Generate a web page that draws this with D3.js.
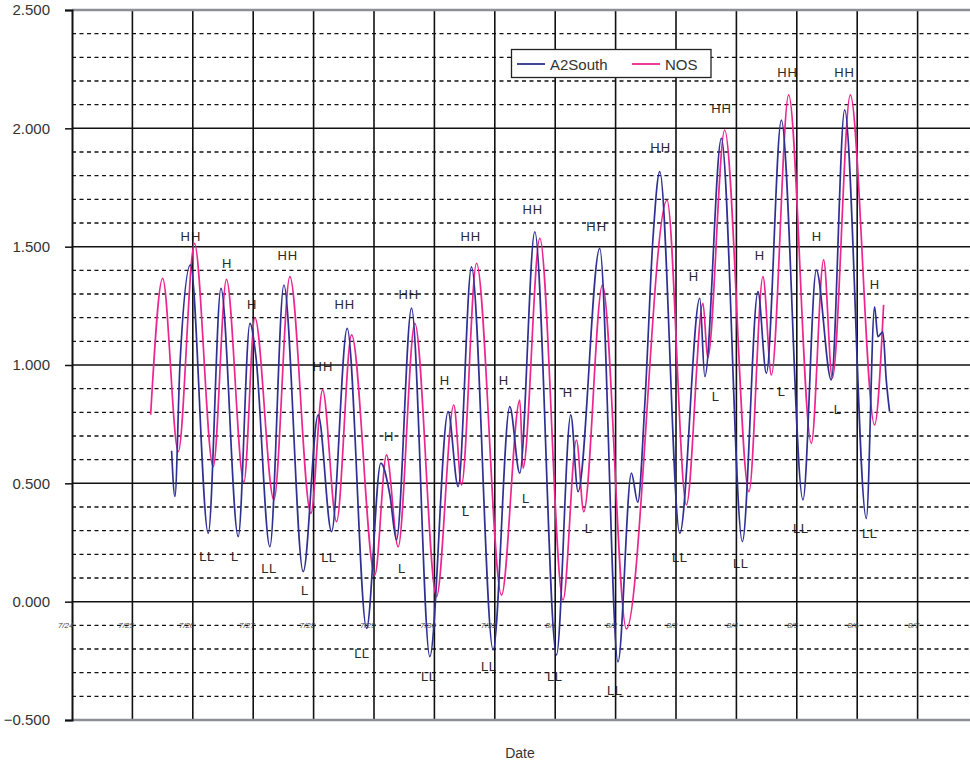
<!DOCTYPE html>
<html>
<head>
<meta charset="utf-8">
<script src="https://cdn.jsdelivr.net/npm/d3@7"></script>
<style>
  html, body { margin: 0; padding: 0; background: #fff; }
  svg { display: block; font-family: "Liberation Sans", Arial, Helvetica, sans-serif; }
</style>
</head>
<body>
<svg id="chart" width="970" height="762"></svg>
<script>
// ---------- data (day offset from 7/24 00:00, water level) ----------
const dayLabels = ["7/24","7/25","7/26","7/27","7/28","7/29","7/30","7/31","8/1","8/2","8/3","8/4","8/5","8/6","8/7"];
const yMajorTicks = [-0.5, 0, 0.5, 1, 1.5, 2, 2.5];
const yMinorTicks = [-0.4,-0.3,-0.2,-0.1,0.1,0.2,0.3,0.4,0.6,0.7,0.8,0.9,1.1,1.2,1.3,1.4,1.6,1.7,1.8,1.9,2.1,2.2,2.3,2.4];
const seriesNames = ["A2South", "NOS"];

const a2South = [
  [1.649,0.638],[1.704,0.444],[1.787,1.00],[1.961,1.423],[2.256,0.289],[2.466,1.324],
  [2.752,0.275],[2.946,1.176],[3.045,1.035],[3.276,0.232],[3.508,1.338],[3.828,0.127],
  [4.076,0.789],[4.297,0.296],[4.556,1.155],[4.877,-0.113],[5.113,0.585],[5.263,0.45],
  [5.372,0.261],[5.621,1.24],[5.924,-0.232],[6.227,0.803],[6.393,0.486],[6.614,1.415],
  [6.972,-0.204],[7.248,0.824],[7.413,0.543],[7.662,1.563],[8.021,-0.225],[8.258,0.789],
  [8.378,0.465],[8.737,1.493],[9.040,-0.254],[9.262,0.543],[9.367,0.42],[9.487,0.85],
  [9.620,1.54],[9.731,1.817],[10.063,0.289],[10.394,1.282],[10.477,0.951],[10.751,1.958],
  [11.099,0.254],[11.357,1.31],[11.496,0.965],[11.744,2.035],[12.102,0.43],[12.323,1.401],
  [12.571,0.937],[12.792,2.078],[13.151,0.352],[13.288,1.246],[13.342,1.12],[13.425,1.14],
  [13.481,0.937],[13.536,0.803]
];

const nos = [
  [1.302,0.79],[1.501,1.366],[1.759,0.634],[2.027,1.514],[2.338,0.57],[2.557,1.362],
  [2.846,0.505],[3.028,1.2],[3.343,0.43],[3.607,1.373],[3.955,0.373],[4.149,0.895],
  [4.380,0.338],[4.629,1.127],[5.014,0.113],[5.208,0.62],[5.400,0.232],[5.676,1.176],
  [6.035,0.021],[6.321,0.831],[6.449,0.493],[6.697,1.43],[7.111,0.028],[7.414,0.852],
  [7.468,0.564],[7.745,1.535],[8.130,0.007],[8.352,0.683],[8.473,0.38],[8.782,1.338],
  [9.179,-0.115],[9.851,1.697],[10.172,0.409],[10.447,1.261],[10.525,1.03],[10.806,1.993],
  [11.208,0.465],[11.440,1.373],[11.579,0.958],[11.865,2.141],[12.241,0.669],[12.444,1.444],
  [12.588,0.944],[12.886,2.141],[13.288,0.747],[13.437,1.254]
];

const tideMarks = [
  ["HH",1.969,1.541],["H",2.565,1.427],["H",2.979,1.254],["HH",3.574,1.461],["HH",4.154,0.992],
  ["HH",4.518,1.254],["H",5.246,0.696],["HH",5.577,1.300],["H",6.172,0.933],["HH",6.603,1.545],
  ["H",7.149,0.933],["HH",7.629,1.658],["H",8.208,0.882],["HH",8.688,1.587],["HH",9.747,1.921],
  ["H",10.293,1.372],["HH",10.755,2.082],["H",11.385,1.461],["HH",11.848,2.238],["H",12.328,1.545],
  ["HH",12.792,2.238],["H",13.288,1.342],
  ["LL",2.234,0.189],["L",2.697,0.189],["LL",3.260,0.142],["L",3.856,0.049],["LL",4.253,0.185],
  ["LL",4.799,-0.220],["L",5.461,0.142],["LL",5.908,-0.315],["L",6.520,0.383],["LL",6.900,-0.273],
  ["L",7.513,0.434],["LL",7.993,-0.315],["L",8.555,0.311],["LL",8.986,-0.374],["LL",10.061,0.185],
  ["L",10.657,0.865],["LL",11.071,0.160],["L",11.749,0.886],["LL",12.064,0.311],["L",12.676,0.814],
  ["LL",13.206,0.290]
];

// ---------- chart ----------
const svg = d3.select("#chart");
const plotLeft = 72, plotRight = 978, plotTop = 10, plotBottom = 720, clipRight = 970;
const x = d3.scaleLinear().domain([0, 15]).range([plotLeft, plotRight]);
const y = d3.scaleLinear().domain([-0.5, 2.5]).range([plotBottom, plotTop]);
const colors = { A2South: "#2E3192", NOS: "#EC268F" };

// annotations (beneath grid)
svg.append("g").selectAll("text").data(tideMarks).join("text")
  .attr("x", d => x(d[1]))
  .attr("y", d => y(d[2]))
  .attr("text-anchor", "middle")
  .attr("dominant-baseline", "central")
  .attr("font-size", 13)
  .attr("letter-spacing", d => d[0] === "HH" ? 1 : 0.5)
  .attr("fill", "#2a2a2a")
  .text(d => d[0]);

// minor dashed grid
svg.append("g").selectAll("line").data(yMinorTicks).join("line")
  .attr("x1", plotLeft).attr("x2", clipRight)
  .attr("y1", d => y(d)).attr("y2", d => y(d))
  .attr("stroke", "#111").attr("stroke-width", 1.3)
  .attr("stroke-dasharray", "4,3.5");

// major horizontal grid
svg.append("g").selectAll("line").data(yMajorTicks.filter(v => v > -0.5 && v < 2.5)).join("line")
  .attr("x1", plotLeft).attr("x2", clipRight)
  .attr("y1", d => y(d)).attr("y2", d => y(d))
  .attr("stroke", "#111").attr("stroke-width", 1.5);

// vertical day grid
svg.append("g").selectAll("line").data(d3.range(1, 16)).join("line")
  .attr("x1", d => x(d)).attr("x2", d => x(d))
  .attr("y1", plotTop).attr("y2", plotBottom)
  .attr("stroke", "#111").attr("stroke-width", 1.6);

// top & bottom frame (gray)
svg.append("g").selectAll("line").data([2.5, -0.5]).join("line")
  .attr("x1", plotLeft).attr("x2", clipRight)
  .attr("y1", d => y(d)).attr("y2", d => y(d))
  .attr("stroke", "#8c9096").attr("stroke-width", 2.5);

// y axis
const yAxis = svg.append("g").attr("transform", `translate(${plotLeft},0)`)
  .call(d3.axisLeft(y).tickValues(yMajorTicks).tickFormat(d3.format(".3f")).tickSize(7).tickPadding(15));
yAxis.select(".domain").attr("stroke", "#111").attr("stroke-width", 2);
yAxis.selectAll(".tick line").attr("stroke", "#111").attr("stroke-width", 1.5);
yAxis.selectAll(".tick text").attr("font-size", 15).attr("fill", "#333")
  .attr("font-family", "'Liberation Sans', Arial, sans-serif");

// x tick labels (small, at -0.1 level)
const xAxis = svg.append("g").attr("transform", `translate(0,${y(-0.1)})`)
  .call(d3.axisBottom(x).tickValues(d3.range(dayLabels.length)).tickFormat(i => dayLabels[i]).tickSize(0).tickPadding(0));
xAxis.select(".domain").remove();
xAxis.selectAll(".tick text")
  .attr("text-anchor", "end").attr("dx", 1).attr("y", 0).attr("dy", "0.35em")
  .attr("font-size", 8).attr("font-style", "italic").attr("fill", "#444")
  .attr("font-family", "'Liberation Sans', Arial, sans-serif");

// series lines
const line = d3.line().x(d => x(d[0])).y(d => y(d[1])).curve(d3.curveMonotoneX);
svg.append("path").datum(nos)
  .attr("fill", "none").attr("stroke", colors.NOS).attr("stroke-width", 1.7)
  .attr("stroke-linejoin", "round").attr("d", line);
svg.append("path").datum(a2South)
  .attr("fill", "none").attr("stroke", colors.A2South).attr("stroke-width", 1.7)
  .attr("stroke-linejoin", "round").attr("d", line);

// legend
const lg = svg.append("g");
lg.append("rect").attr("x", 511.5).attr("y", 49.5).attr("width", 199.5).attr("height", 28)
  .attr("fill", "#fff").attr("stroke", "#222").attr("stroke-width", 1.3);
const legendItems = [
  { name: seriesNames[0], x0: 517, tx: 550 },
  { name: seriesNames[1], x0: 632, tx: 665 }
];
legendItems.forEach(it => {
  lg.append("line").attr("x1", it.x0).attr("x2", it.x0 + 28).attr("y1", 64).attr("y2", 64)
    .attr("stroke", colors[it.name]).attr("stroke-width", 1.8);
  lg.append("text").attr("x", it.tx).attr("y", 64).attr("dominant-baseline", "central")
    .attr("font-size", 15).attr("fill", "#333").text(it.name);
});

// x axis title
svg.append("text").attr("x", 520).attr("y", 753).attr("text-anchor", "middle")
  .attr("dominant-baseline", "central").attr("font-size", 14).attr("fill", "#333").text("Date");
</script>
</body>
</html>
